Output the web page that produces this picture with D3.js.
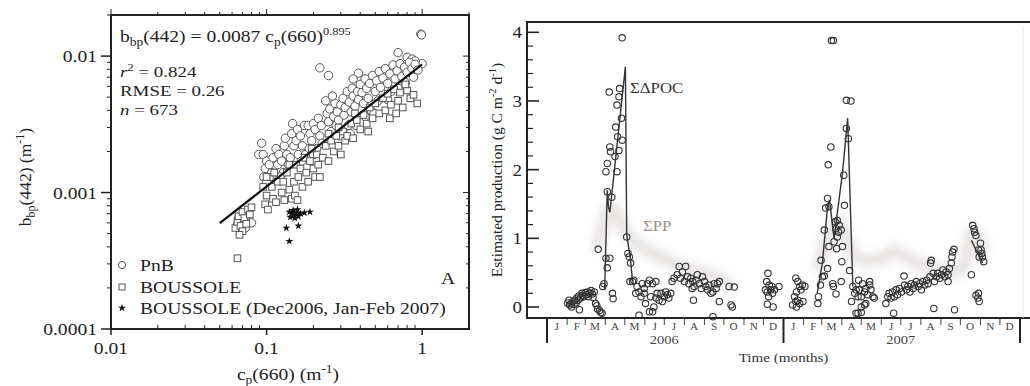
<!DOCTYPE html>
<html>
<head>
<meta charset="utf-8">
<script src="https://cdn.jsdelivr.net/npm/d3@7"></script>
<style>
  body { margin: 0; background: #fff; }
  svg { display: block; font-family: "Liberation Serif", "Times New Roman", serif; }
</style>
</head>
<body>
<svg id="chart" width="1030" height="386"></svg>
<script>
// ---- panel A: bbp(442) vs cp(660), log-log ----
const pnb = [
  [0.22,0.0082],[0.25,0.0072],[0.36,0.0068],[0.39,0.0075],[0.70,0.0106],[0.98,0.0145],[0.99,0.0143],[1.0,0.0088],[0.80,0.0098],[0.86,0.0095],[0.90,0.0092],
  [0.093,0.0023],[0.089,0.0019],[0.095,0.0019],[0.10,0.0017],[0.098,0.0015],[0.104,0.0016],[0.11,0.0018],[0.108,0.0014],[0.096,0.0013],[0.10,0.0012],
  [0.115,0.0021],[0.12,0.0019],[0.118,0.0016],[0.125,0.0017],[0.13,0.0022],[0.128,0.0014],[0.135,0.0019],[0.132,0.0025],[0.122,0.0013],[0.138,0.0016],
  [0.147,0.0032],[0.145,0.0027],[0.15,0.0022],[0.155,0.0024],[0.16,0.0019],[0.158,0.0029],[0.165,0.0026],[0.17,0.0022],[0.175,0.0031],[0.168,0.0017],[0.178,0.0019],[0.142,0.0018],
  [0.185,0.0031],[0.19,0.0027],[0.195,0.0024],[0.20,0.0032],[0.205,0.0029],[0.21,0.0021],[0.215,0.0035],[0.22,0.0026],[0.225,0.0031],[0.188,0.0021],[0.20,0.0019],[0.228,0.0023],
  [0.24,0.0047],[0.245,0.0038],[0.25,0.0033],[0.255,0.0041],[0.26,0.0028],[0.27,0.0036],[0.275,0.0045],[0.28,0.0031],[0.285,0.0039],[0.29,0.0034],[0.295,0.0026],[0.265,0.0051],[0.30,0.0044],
  [0.31,0.0049],[0.315,0.0037],[0.32,0.0042],[0.33,0.0055],[0.335,0.0031],[0.34,0.0046],[0.35,0.0039],[0.355,0.0058],[0.36,0.0051],[0.37,0.0043],[0.38,0.0036],[0.385,0.0055],[0.39,0.0048],[0.40,0.0062],[0.345,0.0027],[0.375,0.0031],
  [0.41,0.0054],[0.42,0.0045],[0.43,0.0068],[0.44,0.0058],[0.45,0.0049],[0.46,0.0063],[0.47,0.0040],[0.48,0.0072],[0.50,0.0055],[0.51,0.0066],[0.52,0.0047],[0.53,0.0077],[0.54,0.0059],[0.43,0.0036],[0.49,0.0038],
  [0.56,0.0069],[0.58,0.0081],[0.60,0.0063],[0.62,0.0074],[0.63,0.0055],[0.65,0.0086],[0.67,0.0068],[0.69,0.0078],[0.72,0.0088],[0.74,0.0071],[0.60,0.0048],[0.70,0.0058],
  [0.77,0.0083],[0.80,0.0076],[0.83,0.0090],[0.86,0.0081],[0.90,0.0087],[0.94,0.0079],[0.78,0.0064],[0.88,0.0070],
  [0.065,0.00058],[0.068,0.00052],[0.070,0.00062],[0.073,0.00055],[0.075,0.00068],[0.080,0.00060],[0.066,0.00065]
];
const boussole = [
  [0.063,0.00055],[0.065,0.00061],[0.066,0.00067],[0.068,0.00057],[0.070,0.00072],[0.072,0.00065],[0.074,0.00059],[0.076,0.00075],[0.078,0.00069],[0.070,0.00052],[0.067,0.00049],[0.080,0.00078],
  [0.065,0.00033],
  [0.095,0.0011],[0.10,0.00095],[0.098,0.00082],[0.102,0.00075],[0.105,0.0013],[0.11,0.0009],[0.108,0.0011],[0.115,0.00085],[0.118,0.0012],[0.112,0.0014],[0.10,0.0013],
  [0.125,0.0010],[0.13,0.00088],[0.128,0.0012],[0.135,0.0014],[0.14,0.00105],[0.145,0.0009],[0.15,0.0012],[0.155,0.0016],[0.14,0.0016],[0.152,0.00095],[0.16,0.0013],[0.158,0.00088],
  [0.165,0.0015],[0.17,0.0011],[0.175,0.0018],[0.18,0.0014],[0.185,0.0012],[0.19,0.0017],[0.20,0.0015],[0.205,0.0013],[0.21,0.0019],[0.215,0.0016],[0.22,0.0013],[0.195,0.0021],
  [0.23,0.0018],[0.24,0.0022],[0.25,0.0017],[0.26,0.0024],[0.27,0.0020],[0.28,0.0026],[0.29,0.0022],[0.30,0.0019],[0.31,0.0028],[0.32,0.0024],[0.25,0.0027],[0.29,0.0030],
  [0.33,0.0026],[0.35,0.0032],[0.36,0.0025],[0.38,0.0034],[0.40,0.0029],[0.42,0.0037],[0.44,0.0032],[0.46,0.0042],[0.48,0.0035],[0.50,0.0045],[0.37,0.0038],[0.45,0.0028],
  [0.53,0.0038],[0.56,0.0049],[0.58,0.0040],[0.60,0.0053],[0.63,0.0044],[0.66,0.0057],[0.70,0.0047],[0.72,0.0054],[0.75,0.0042],[0.80,0.0056],[0.84,0.0049],[0.88,0.0052],[0.93,0.0045],[0.78,0.0062],[0.62,0.0035],[0.68,0.0038]
];
const boussoleWinter = [
  [0.14,0.00072],[0.145,0.0007],[0.15,0.00068],[0.148,0.00074],[0.155,0.00071],[0.16,0.00067],[0.142,0.00066],[0.152,0.00065],
  [0.158,0.00075],[0.165,0.0007],[0.19,0.00072],[0.134,0.00055],[0.16,0.00057],[0.14,0.00044],[0.175,0.00071]
];
const fitLine = [[0.05,0.000596],[1,0.0087]];
const xTicksA = [0.01, 0.1, 1];
const yTicksA = [0.0001, 0.001, 0.01];
const xTickLabelsA = ["0.01", "0.1", "1"];
const yTickLabelsA = ["0.0001", "0.001", "0.01"];
const legendA = ["PnB", "BOUSSOLE", "BOUSSOLE (Dec2006, Jan-Feb 2007)"];

// ---- panel B: estimated production time series ----
const poc = [
  ["2006-02-02",0.06],["2006-02-04",0.10],["2006-02-05",0.03],["2006-02-07",0.05],["2006-02-08",0.00],["2006-02-10",0.08],["2006-02-12",0.04],["2006-02-13",0.10],["2006-02-15",0.06],["2006-02-16",0.13],["2006-02-18",0.10],["2006-02-19",0.16],["2006-02-20",-0.04],["2006-02-22",0.13],["2006-02-24",0.20],["2006-02-25",0.17],["2006-02-27",0.15],
  ["2006-03-01",0.21],["2006-03-03",0.18],["2006-03-05",0.22],["2006-03-06",0.15],["2006-03-08",0.20],["2006-03-10",0.24],["2006-03-12",0.19],["2006-03-13",0.14],["2006-03-15",0.22],["2006-03-17",0.05],["2006-03-19",0.02],["2006-03-20",-0.03],["2006-03-21",0.84],["2006-03-23",-0.05],["2006-03-25",-0.08],["2006-03-27",-0.09],["2006-03-28",0.30],["2006-03-30",0.34],
  ["2006-04-02",0.71],["2006-04-02",1.97],["2006-04-04",0.57],["2006-04-04",1.68],["2006-04-04",2.09],["2006-04-07",3.13],["2006-04-08",0.71],["2006-04-08",2.33],["2006-04-09",2.26],["2006-04-11",1.60],["2006-04-12",0.20],["2006-04-13",0.12],["2006-04-16",2.19],["2006-04-17",2.62],["2006-04-19",2.94],["2006-04-19",1.97],["2006-04-20",2.48],["2006-04-22",3.06],["2006-04-22",2.28],["2006-04-23",3.18],["2006-04-26",2.75],["2006-04-27",3.92],["2006-04-27",2.43],
  ["2006-05-04",1.02],["2006-05-06",0.78],["2006-05-08",0.73],["2006-05-10",0.64],["2006-05-09",0.37],["2006-05-13",0.37],["2006-05-15",0.39],["2006-05-18",0.20],["2006-05-20",0.30],["2006-05-23",0.22],["2006-05-23",-0.12],["2006-05-26",0.15],["2006-05-28",0.34],["2006-05-31",0.20],["2006-05-31",0.27],
  ["2006-06-02",0.05],["2006-06-05",0.34],["2006-06-08",-0.07],["2006-06-08",0.39],["2006-06-10",0.15],["2006-06-13",-0.07],["2006-06-13",0.34],["2006-06-15",0.00],["2006-06-18",0.13],["2006-06-18",0.37],["2006-06-20",0.20],["2006-06-23",0.10],["2006-06-26",0.20],["2006-06-28",0.08],
  ["2006-07-01",0.15],["2006-07-03",0.22],["2006-07-06",0.18],["2006-07-08",0.13],["2006-07-11",0.20],["2006-07-13",0.37],["2006-07-16",0.42],["2006-07-21",0.47],["2006-07-24",0.59],["2006-07-26",0.42],["2006-07-29",0.51],
  ["2006-08-01",0.37],["2006-08-03",0.59],["2006-08-06",0.44],["2006-08-08",0.34],["2006-08-11",0.42],["2006-08-13",0.27],["2006-08-14",0.37],["2006-08-15",0.10],["2006-08-16",0.30],["2006-08-19",0.39],["2006-08-21",0.47],["2006-08-24",0.34],["2006-08-27",0.27],["2006-08-29",0.44],
  ["2006-09-01",0.37],["2006-09-03",0.30],["2006-09-06",0.25],["2006-09-08",0.32],["2006-09-11",0.20],["2006-09-14",0.22],["2006-09-14",-0.14],["2006-09-16",0.34],["2006-09-19",0.27],["2006-09-21",0.34],["2006-09-24",0.37],["2006-09-24",0.08],
  ["2006-10-09",0.30],["2006-10-17",0.29],["2006-10-12",0.03],["2006-10-14",0.00],
  ["2006-12-04",0.25],["2006-12-06",0.37],["2006-12-07",0.22],["2006-12-07",0.04],["2006-12-08",0.49],["2006-12-09",0.15],["2006-12-10",0.32],["2006-12-12",0.25],["2006-12-14",0.30],["2006-12-15",0.20],["2006-12-16",0.00],["2006-12-18",0.25],["2006-12-25",0.30],
  ["2007-01-15",0.03],["2007-01-18",0.15],["2007-01-20",0.42],["2007-01-20",0.08],["2007-01-21",0.22],["2007-01-21",0.00],["2007-01-23",0.37],["2007-01-23",0.10],["2007-01-26",0.30],["2007-01-26",0.05],["2007-01-28",0.25],["2007-01-30",0.32],["2007-01-31",0.08],["2007-02-03",0.30],
  ["2007-02-23",0.05],["2007-02-24",0.15],["2007-02-27",0.32],["2007-02-28",0.68],["2007-03-02",0.44],["2007-03-05",0.45],["2007-03-05",1.12],["2007-03-07",1.44],["2007-03-10",0.56],["2007-03-10",1.58],["2007-03-11",2.07],["2007-03-12",0.88],["2007-03-12",1.46],["2007-03-15",2.33],["2007-03-16",3.88],["2007-03-18",0.34],["2007-03-19",3.88],["2007-03-19",0.30],["2007-03-20",0.95],["2007-03-22",1.24],["2007-03-23",1.14],["2007-03-23",0.19],["2007-03-24",0.85],["2007-03-25",1.26],["2007-03-25",1.02],["2007-03-27",1.09],["2007-03-28",1.19],["2007-03-31",1.12],["2007-03-31",0.37],
  ["2007-04-01",0.66],["2007-04-02",0.88],["2007-04-04",1.92],["2007-04-05",1.48],["2007-04-08",2.60],["2007-04-08",3.01],["2007-04-11",2.45],["2007-04-13",0.53],["2007-04-15",3.00],["2007-04-16",0.08],["2007-04-18",0.30],["2007-04-21",0.20],["2007-04-23",0.25],["2007-04-23",-0.09],["2007-04-26",0.15],["2007-04-26",-0.09],["2007-04-27",0.39],["2007-04-28",0.25],
  ["2007-05-01",0.15],["2007-05-01",0.00],["2007-05-01",-0.08],["2007-05-03",0.34],["2007-05-06",0.22],["2007-05-06",0.03],["2007-05-08",0.27],["2007-05-08",0.05],["2007-05-11",0.18],["2007-05-14",0.32],["2007-05-14",0.37],["2007-05-16",0.25],["2007-05-19",0.15],["2007-05-21",0.13],
  ["2007-06-08",0.05],["2007-06-11",0.15],["2007-06-13",0.20],["2007-06-16",0.13],["2007-06-18",0.22],["2007-06-20",-0.09],["2007-06-21",0.15],["2007-06-24",0.25],["2007-06-26",0.18],["2007-06-29",0.27],
  ["2007-07-02",0.22],["2007-07-06",0.45],["2007-07-07",0.32],["2007-07-10",0.25],["2007-07-12",0.30],["2007-07-15",0.22],["2007-07-17",0.34],["2007-07-20",0.27],["2007-07-22",0.32],["2007-07-25",0.37],["2007-07-28",0.30],["2007-07-30",0.34],
  ["2007-08-02",0.25],["2007-08-04",0.37],["2007-08-07",0.32],["2007-08-10",0.39],["2007-08-12",0.34],["2007-08-15",0.44],["2007-08-16",0.64],["2007-08-17",0.68],["2007-08-20",0.49],["2007-08-21",-0.02],["2007-08-22",0.37],["2007-08-25",0.44],["2007-08-27",0.49],["2007-08-30",0.42],
  ["2007-09-02",0.47],["2007-09-04",0.54],["2007-09-07",0.44],["2007-09-09",0.51],["2007-09-12",0.47],["2007-09-12",0.37],["2007-09-14",0.56],["2007-09-17",0.64],["2007-09-18",0.73],["2007-09-19",0.80],["2007-09-21",0.84],["2007-09-22",-0.04],
  ["2007-10-18",0.47],["2007-10-20",1.19],["2007-10-22",1.14],["2007-10-23",1.09],["2007-10-25",1.04],["2007-10-25",0.17],["2007-10-28",0.13],["2007-10-29",0.83],["2007-10-29",0.20],["2007-10-30",0.73],["2007-10-30",0.08],
  ["2007-11-01",0.93],["2007-11-02",0.83],["2007-11-03",0.78],["2007-11-04",0.73],["2007-11-06",0.66]
];
const pocLine2006 = [["2006-03-31",0.25],["2006-04-04",1.70],["2006-04-06",1.45],["2006-04-08",1.38],["2006-04-10",1.55],["2006-05-02",3.50],["2006-05-04",1.05],["2006-05-10",0.68],["2006-05-13",0.37]];
const pocLine2007 = [["2007-02-22",0.20],["2007-03-02",0.64],["2007-03-10",1.46],["2007-03-13",1.56],["2007-03-20",1.00],["2007-04-02",1.95],["2007-04-10",2.75],["2007-04-18",0.30]];
const pocLineAutumn = [["2007-10-18",0.97],["2007-11-04",0.64]];
const pp2006 = [["2006-03-20",0.9],["2006-03-30",1.2],["2006-04-08",1.45],["2006-04-20",1.35],["2006-05-05",1.05],["2006-05-20",0.92],["2006-06-10",0.80],["2006-07-01",0.70],["2006-07-20",0.62],["2006-08-10",0.55],["2006-08-30",0.50],["2006-09-20",0.42],["2006-10-05",0.35]];
const pp2007 = [["2007-02-25",0.6],["2007-03-10",1.0],["2007-03-25",1.25],["2007-04-08",1.0],["2007-04-20",0.75],["2007-05-10",0.68],["2007-06-01",0.70],["2007-06-20",0.82],["2007-07-10",0.72],["2007-08-01",0.62],["2007-08-25",0.55],["2007-09-15",0.50],["2007-10-05",0.55],["2007-10-20",1.1],["2007-11-05",0.85]];
const yTicksB = [0, 1, 2, 3, 4];
const monthLetters = ["J","F","M","A","M","J","J","A","S","O","N","D"];
const years = ["2006", "2007"];

const svg = d3.select("#chart");
const parseDate = d3.timeParse("%Y-%m-%d");
const STRETCH = 1.12;
const INK = "#222";

function stretchText(g, x, y, size, anchor = "start", sx = STRETCH) {
  return g.append("text")
    .attr("transform", `translate(${x},${y}) scale(${sx},1)`)
    .attr("font-size", size)
    .attr("text-anchor", anchor)
    .attr("fill", INK);
}

function addSub(t, s, size, dy) {
  t.append("tspan").attr("dy", dy).attr("font-size", size).text(s);
}

function isDecade(v) {
  const l = Math.log10(v);
  return Math.abs(l - Math.round(l)) < 1e-6;
}

// ================= panel A =================
const xA = d3.scaleLog().domain([0.01, 2]).range([111, 469]);
const yA = d3.scaleLog().domain([0.0001, 0.02]).range([329, 15]);
const gA = svg.append("g");

const [ax0, ax1] = xA.range();
const [ay1, ay0] = yA.range();

gA.append("rect")
  .attr("x", ax0).attr("y", ay0)
  .attr("width", ax1 - ax0).attr("height", ay1 - ay0)
  .attr("fill", "none").attr("stroke", INK).attr("stroke-width", 2);

// tick marks
xA.ticks().forEach((t) => {
  const major = isDecade(t);
  const x = xA(t);
  gA.append("line").attr("x1", x).attr("x2", x)
    .attr("y1", major ? ay1 + 6 : ay1).attr("y2", major ? ay1 : ay1 - 4)
    .attr("stroke", INK).attr("stroke-width", major ? 1.5 : 1);
  gA.append("line").attr("x1", x).attr("x2", x)
    .attr("y1", ay0).attr("y2", ay0 - (major ? 6 : 3))
    .attr("stroke", INK).attr("stroke-width", 1);
});
yA.ticks().forEach((t) => {
  const major = isDecade(t);
  const y = yA(t);
  gA.append("line").attr("x1", ax0 - (major ? 10 : 4)).attr("x2", ax0)
    .attr("y1", y).attr("y2", y)
    .attr("stroke", INK).attr("stroke-width", major ? 1.5 : 1);
  gA.append("line").attr("x1", ax1).attr("x2", ax1 - (major ? 6 : 3))
    .attr("y1", y).attr("y2", y)
    .attr("stroke", INK).attr("stroke-width", 1);
});

xTicksA.forEach((t, i) => stretchText(gA, xA(t), 354, 17.5, "middle").text(xTickLabelsA[i]));
yTicksA.forEach((t, i) => stretchText(gA, 97, yA(t) + 6, 17.5, "end").text(yTickLabelsA[i]));

// axis titles
const xTitle = stretchText(gA, 288, 380, 17.5, "middle").text("c");
addSub(xTitle, "p", 12, 4);
xTitle.append("tspan").attr("dy", -4).text("(660) (m");
addSub(xTitle, "-1", 12, -7);
xTitle.append("tspan").attr("dy", 7).text(")");

const yTitle = gA.append("text")
  .attr("transform", "translate(31,177) rotate(-90)")
  .attr("font-size", 17.5).attr("text-anchor", "middle").attr("fill", INK)
  .text("b");
addSub(yTitle, "bp", 12, 4);
yTitle.append("tspan").attr("dy", -4).text("(442) (m");
addSub(yTitle, "-1", 12, -7);
yTitle.append("tspan").attr("dy", 7).text(")");

// points
gA.append("g").selectAll("circle").data(pnb).join("circle")
  .attr("cx", (d) => xA(d[0])).attr("cy", (d) => yA(d[1])).attr("r", 4.2)
  .attr("fill", "#fff").attr("stroke", "#555").attr("stroke-width", 1);

gA.append("g").selectAll("rect").data(boussole).join("rect")
  .attr("x", (d) => xA(d[0]) - 3.3).attr("y", (d) => yA(d[1]) - 3.3)
  .attr("width", 6.6).attr("height", 6.6)
  .attr("fill", "#fff").attr("stroke", "#555").attr("stroke-width", 1);

const star = d3.symbol().type(d3.symbolStar).size(20);
gA.append("g").selectAll("path").data(boussoleWinter).join("path")
  .attr("transform", (d) => `translate(${xA(d[0])},${yA(d[1])})`)
  .attr("d", star).attr("fill", "#111");

gA.append("path")
  .attr("d", d3.line().x((d) => xA(d[0])).y((d) => yA(d[1]))(fitLine))
  .attr("stroke", "#111").attr("stroke-width", 2.2).attr("fill", "none");

// annotation
const eq = stretchText(gA, 120, 42, 17.5).text("b");
addSub(eq, "bp", 12, 4);
eq.append("tspan").attr("dy", -4).text("(442) =  0.0087 c");
addSub(eq, "p", 12, 4);
eq.append("tspan").attr("dy", -4).text("(660)");
addSub(eq, "0.895", 11, -7);

const r2 = stretchText(gA, 120, 77, 15.5, "start", 1.22);
r2.append("tspan").attr("font-style", "italic").text("r");
addSub(r2, "2", 10.5, -6);
r2.append("tspan").attr("dy", 6).text(" = 0.824");
stretchText(gA, 120, 96, 15.5, "start", 1.22).text("RMSE = 0.26");
const nn = stretchText(gA, 120, 115, 15.5, "start", 1.22);
nn.append("tspan").attr("font-style", "italic").text("n");
nn.append("tspan").text(" = 673");

stretchText(gA, 448, 284, 17.5, "middle").text("A");

// legend
const legY = [265, 287, 308];
gA.append("circle").attr("cx", 122).attr("cy", legY[0]).attr("r", 3.6)
  .attr("fill", "#fff").attr("stroke", "#555");
gA.append("rect").attr("x", 119).attr("y", legY[1] - 3).attr("width", 6).attr("height", 6)
  .attr("fill", "#fff").attr("stroke", "#555");
gA.append("path").attr("transform", `translate(122,${legY[2]})`).attr("d", star).attr("fill", "#111");
legendA.forEach((s, i) => stretchText(gA, 140, legY[i] + 6, 17.5).text(s));

// ================= panel B =================
const xB = d3.scaleTime().domain([new Date(2006, 0, 1), new Date(2008, 0, 1)]).range([547, 1020]);
const yB = d3.scaleLinear().domain([-0.16, 4.15]).range([318, 22]);
const gB = svg.append("g");
const bx0 = 527, bx1 = 1030;
const [by1, by0] = yB.range();

const defs = svg.append("defs");
defs.append("filter").attr("id", "smear")
  .attr("x", "-10%").attr("y", "-30%").attr("width", "120%").attr("height", "160%")
  .append("feGaussianBlur").attr("stdDeviation", 4);

// frame
gB.append("line").attr("x1", bx0).attr("x2", bx1).attr("y1", by0).attr("y2", by0)
  .attr("stroke", INK).attr("stroke-width", 2);
gB.append("line").attr("x1", bx0).attr("x2", bx1).attr("y1", by1).attr("y2", by1)
  .attr("stroke", INK).attr("stroke-width", 2);
gB.append("line").attr("x1", bx0).attr("x2", bx0).attr("y1", by0 - 1).attr("y2", by1 + 1)
  .attr("stroke", INK).attr("stroke-width", 2);
gB.append("line").attr("x1", 1023).attr("x2", 1023).attr("y1", by0 + 4).attr("y2", by1)
  .attr("stroke", "#e6e6e6").attr("stroke-width", 1);

// y ticks, inward
yB.ticks(20).forEach((t) => {
  const major = Number.isInteger(Math.round(t * 1000) / 1000);
  gB.append("line").attr("x1", bx0).attr("x2", bx0 + (major ? 12 : 6))
    .attr("y1", yB(t)).attr("y2", yB(t))
    .attr("stroke", INK).attr("stroke-width", major ? 1.6 : 1.2);
});
yTicksB.forEach((t) => stretchText(gB, 522, yB(t) + 6, 17, "end").text(t));

// month axis
const months = d3.timeMonth.range(xB.domain()[0], xB.domain()[1]);
months.forEach((m) => {
  gB.append("line").attr("x1", xB(m)).attr("x2", xB(m)).attr("y1", by1 + 1).attr("y2", by1 + 7)
    .attr("stroke", "#444").attr("stroke-width", 1);
  stretchText(gB, xB(d3.timeDay.offset(m, 15)), by1 + 12, 10, "middle")
    .attr("fill", "#444").text(monthLetters[m.getMonth()]);
});
d3.timeYear.range(new Date(2006, 0, 1), new Date(2008, 0, 2)).forEach((yd) => {
  gB.append("line").attr("x1", xB(yd)).attr("x2", xB(yd)).attr("y1", by1).attr("y2", by1 + 25)
    .attr("stroke", INK).attr("stroke-width", 2);
});
years.forEach((yr) => {
  const mid = d3.timeMonth.offset(new Date(+yr, 0, 1), 6);
  stretchText(gB, xB(mid), 344, 13, "middle").attr("fill", "#444").text(yr);
});
stretchText(gB, xB(new Date(2007, 0, 1)), 362, 13.5, "middle").attr("fill", "#333").text("Time (months)");

const yTitleB = gB.append("text")
  .attr("transform", "translate(502,170) rotate(-90)")
  .attr("font-size", 15.5).attr("text-anchor", "middle").attr("fill", INK)
  .text("Estimated production (g C m");
addSub(yTitleB, "-2", 10.5, -6);
yTitleB.append("tspan").attr("dy", 6).text(" d");
addSub(yTitleB, "-1", 10.5, -6);
yTitleB.append("tspan").attr("dy", 6).text(")");

// ΣPP smear
const lineB = d3.line().x((d) => xB(parseDate(d[0]))).y((d) => yB(d[1])).curve(d3.curveMonotoneX);
[pp2006, pp2007].forEach((seg) => {
  gB.append("path").attr("d", lineB(seg))
    .attr("fill", "none").attr("stroke", "#c4bdb9").attr("stroke-width", 13)
    .attr("stroke-linecap", "round").attr("opacity", 0.4).attr("filter", "url(#smear)");
});

// ΣΔPOC lines
const lineLin = d3.line().x((d) => xB(parseDate(d[0]))).y((d) => yB(d[1]));
[pocLine2006, pocLine2007, pocLineAutumn].forEach((seg) => {
  gB.append("path").attr("d", lineLin(seg))
    .attr("fill", "none").attr("stroke", "#333").attr("stroke-width", 1.4);
});

gB.append("g").selectAll("circle").data(poc).join("circle")
  .attr("cx", (d) => xB(parseDate(d[0]))).attr("cy", (d) => yB(d[1])).attr("r", 3.2)
  .attr("fill", "none").attr("stroke", "#333").attr("stroke-width", 1.1);

stretchText(gB, 630, 93, 15).attr("fill", "#3a3330").text("ΣΔPOC");
stretchText(gB, 643, 231, 15).attr("fill", "#a09088").text("ΣPP");
</script>
</body>
</html>
